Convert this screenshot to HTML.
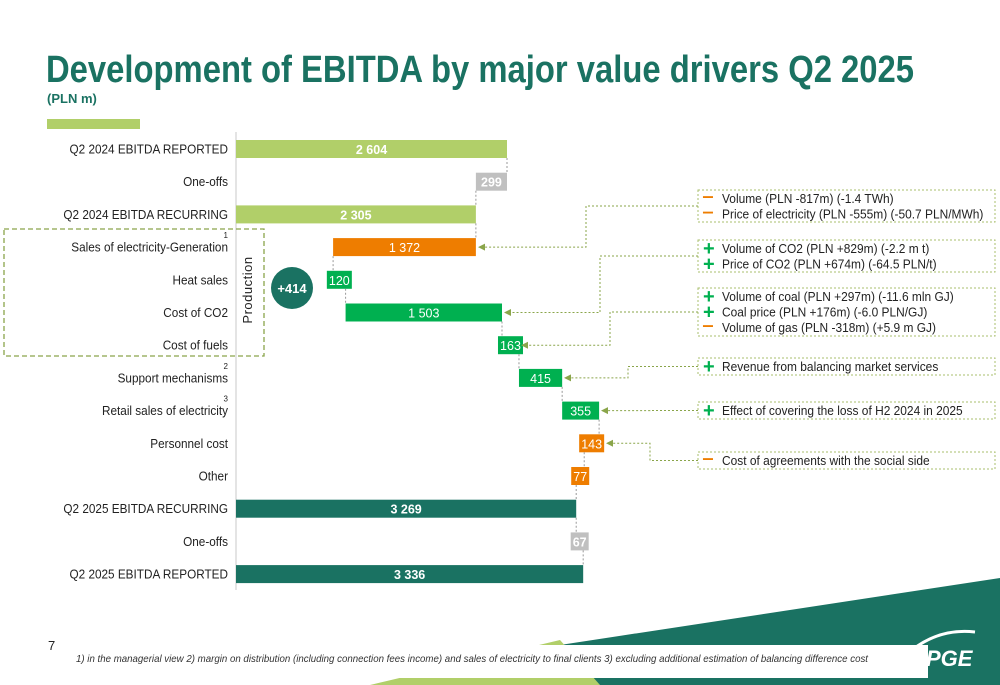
<!DOCTYPE html>
<html><head><meta charset="utf-8"><style>
body{margin:0;background:#fff;font-family:"Liberation Sans",sans-serif;}
#wrap{position:relative;width:1000px;height:685px;overflow:hidden;}
</style></head><body>
<div id="wrap">
<svg id="chart" width="1000" height="685" xmlns="http://www.w3.org/2000/svg">
  <polygon points="560,645 1000,578 1000,685 560,685" fill="#1a7262"/>
  <polygon points="370,685 560,640 600,685" fill="#b1cf69"/>
  <rect x="60" y="645" width="868" height="33" fill="#fff"/>
  <text x="46" y="82" font-size="38" font-weight="bold" fill="#1a7262" textLength="868" lengthAdjust="spacingAndGlyphs">Development of EBITDA by major value drivers Q2 2025</text>
  <text x="47" y="103" font-size="13" font-weight="bold" fill="#1a7262">(PLN m)</text>
  <rect x="47" y="119" width="93" height="10" fill="#b1cf69"/>
  <line x1="236" y1="132" x2="236" y2="590" stroke="#c8c8c8" stroke-width="1"/>
  <rect x="4" y="229" width="260" height="127" fill="none" stroke="#8aa54a" stroke-width="1.3" stroke-dasharray="5,3"/>
  <text transform="translate(252,290) rotate(-90)" text-anchor="middle" font-size="13" fill="#222" letter-spacing="0.5">Production</text>
  <circle cx="292" cy="288" r="21" fill="#1a7262"/>
  <text x="292" y="293" text-anchor="middle" font-size="13" font-weight="bold" fill="#fff">+414</text>
  <text x="48" y="650" font-size="13" fill="#222">7</text>
  <text x="76" y="662" font-size="10.5" font-style="italic" fill="#333" textLength="792" lengthAdjust="spacingAndGlyphs">1) in the managerial view 2) margin on distribution (including connection fees income) and sales of electricity to final clients  3) excluding additional estimation of balancing difference cost</text>
  <text x="926" y="666" font-size="22" font-weight="bold" font-style="italic" fill="#fff">PGE</text>
  <path d="M912,650 Q940,628 975,632" stroke="#fff" stroke-width="3" fill="none"/>
  <g id="bars"></g>
  <g id="notes"></g>
</svg>
</div>
<script>
const categories=["Q2 2024 EBITDA REPORTED","One-offs","Q2 2024 EBITDA RECURRING","Sales of electricity-Generation","Heat sales","Cost of CO2","Cost of fuels","Support mechanisms","Retail sales of electricity","Personnel cost","Other","Q2 2025 EBITDA RECURRING","One-offs","Q2 2025 EBITDA REPORTED"];
const values=[2604,-299,2305,-1372,120,1503,163,415,355,-143,-77,3269,67,3336];
const kinds=["total","oneoff","total","delta","delta","delta","delta","delta","delta","delta","delta","total","oneoff","total"];
const labels=["2 604","299","2 305","1 372","120","1 503","163","415","355","143","77","3 269","67","3 336"];
const superscripts=["","","","1","","","","2","3","","","","",""];
const xPerUnit=271/2604, x0=236;
function xs(v){return x0+v*xPerUnit;}
function ys(i){return 149+i*32.7;}
const NS="http://www.w3.org/2000/svg";
const g=document.getElementById('bars');
function mk(tag,attrs,parent){const e=document.createElementNS(NS,tag);for(const k in attrs)e.setAttribute(k,attrs[k]);(parent||g).appendChild(e);return e;}
function condense(t,f){const w=t.getComputedTextLength();if(w>0){t.setAttribute('textLength',(w*f).toFixed(1));t.setAttribute('lengthAdjust','spacingAndGlyphs');}}
let run=0;
categories.forEach((c,i)=>{
  const v=values[i];let a,b,fill,bold=false;
  if(kinds[i]==="total"){a=0;b=v;run=v;fill=i<3?"#b1cf69":"#1a7262";bold=true;}
  else if(kinds[i]==="oneoff"){
    if(v<0){a=run+v;b=run;run=run+v;}else{a=run;b=run+v;run=run+v;}
    fill="#c0c0c0";bold=true;}
  else{a=Math.min(run,run+v);b=Math.max(run,run+v);run+=v;fill=v<0?"#ee7d00":"#00b050";}
  const y=ys(i);
  const lab=mk('text',{x:228,y:y+4.5,'text-anchor':'end','font-size':12.5,fill:'#222'});
  
  
  lab.textContent=c;
  condense(lab,0.94);
  if(superscripts[i]){const s=mk('text',{x:228,y:y-9,'text-anchor':'end','font-size':8,fill:'#222'});
    
    
    s.textContent=superscripts[i];}
  let x1=xs(a),x2=xs(b);
  const txtW=labels[i].length*7+4;
  if(x2-x1<txtW){const m=(x1+x2)/2;x1=m-txtW/2;x2=m+txtW/2;}
  const r=mk('rect',{x:x1,y:y-9,width:x2-x1,height:18,fill:fill});
  
  
  const t=mk('text',{x:(x1+x2)/2,y:y+5,'text-anchor':'middle','font-size':12.5,fill:'#fff','font-weight':bold?'bold':'normal'});
  
  
  t.textContent=labels[i];
  if(i>0){const cx=(kinds[i]==="total")?xs(b):(v<0?xs(b):xs(a));
    const cn=mk('line',{x1:cx,y1:ys(i-1)+9,x2:cx,y2:y-9,stroke:'#999','stroke-dasharray':'2,2'});
    
    }
});
const notes=[
 {y:190,h:32,row:3,bx:586,lines:[["-","Volume (PLN -817m) (-1.4 TWh)"],["-","Price of electricity (PLN -555m) (-50.7 PLN/MWh)"]]},
 {y:240,h:32,row:5,bx:600,lines:[["+","Volume of CO2 (PLN +829m) (-2.2 m t)"],["+","Price of CO2 (PLN +674m) (-64.5 PLN/t)"]]},
 {y:288,h:48,row:6,bx:610,lines:[["+","Volume of coal (PLN +297m) (-11.6 mln GJ)"],["+","Coal price (PLN +176m) (-6.0 PLN/GJ)"],["-","Volume of gas (PLN -318m) (+5.9 m GJ)"]]},
 {y:358,h:17,row:7,bx:628,lines:[["+","Revenue from balancing market services"]]},
 {y:402,h:17,row:8,bx:650,lines:[["+","Effect of covering the loss of H2 2024 in 2025"]]},
 {y:452,h:17,row:9,bx:650,lines:[["-","Cost of agreements with the social side"]]}
];
const arrowX=[478,504,521,564,601,606];
const ng=document.getElementById('notes');
notes.forEach((n,k)=>{
  const b=mk('rect',{x:698,y:n.y,width:297,height:n.h,fill:'none',stroke:'#a9bf6e','stroke-dasharray':'2,2'},ng);
  
  
  n.lines.forEach((l,j)=>{
    const ty=n.y+13+j*15.5;
    const s=mk('text',{x:703,y:ty+(l[0]==="-"?-1:2),'font-size':l[0]==="+"?20:18,'font-weight':'bold',fill:l[0]==="+"?'#00b050':'#ee7d00'},ng);
    
    
    s.textContent=l[0]==="+"?"+":"‒";
    const t=mk('text',{x:722,y:ty,'font-size':12.5,fill:'#222'},ng);
    
    
    t.textContent=l[1];
    condense(t,0.955);
  });
  const my=n.y+n.h/2, ty=ys(n.row), ax=arrowX[k];
  const p=mk('polyline',{points:`698,${my} ${n.bx},${my} ${n.bx},${ty} ${ax+6},${ty}`,fill:'none',stroke:'#8aa54a','stroke-dasharray':'2,2'},ng);
  
  
  const ah=mk('polygon',{points:`${ax},${ty} ${ax+7},${ty-3.5} ${ax+7},${ty+3.5}`,fill:'#8aa54a'},ng);
  
  
});
</script>
</body></html>
